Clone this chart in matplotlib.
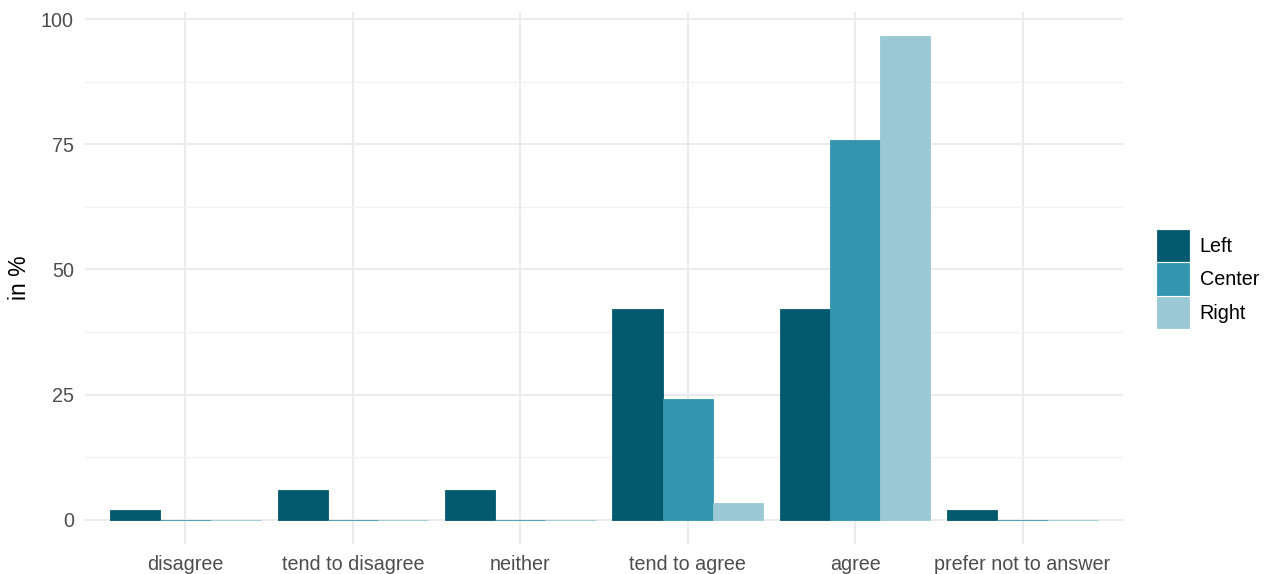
import numpy as np
import matplotlib.pyplot as plt
from matplotlib.ticker import MultipleLocator

# answer categories and share per political group (in %)
categories = ["disagree", "tend to disagree", "neither", "tend to agree", "agree", "prefer not to answer"]
groups = ["Left", "Center", "Right"]
left = [2.0, 6.0, 6.0, 42.0, 42.0, 2.0]
center = [0.0, 0.0, 0.0, 24.2, 75.8, 0.0]
right = [0.0, 0.0, 0.0, 3.45, 96.55, 0.0]
colors = ["#035a6e", "#3396ae", "#9ac9d5"]

plt.rcParams['font.family'] = ['Liberation Sans', 'DejaVu Sans']

fig = plt.figure(figsize=(12.71, 5.74), dpi=100)
ax = fig.add_axes([85 / 1271, 30 / 574, (1123 - 85) / 1271, (562 - 30) / 574])

x = np.arange(1, len(categories) + 1)
width = 0.3
for i, (vals, name, col) in enumerate(zip([left, center, right], groups, colors)):
    ax.bar(x + (i - 1) * width, vals, width=width, color=col, edgecolor=col,
           linewidth=0.6, label=name, zorder=3)

ax.set_xlim(0.4, 6.6)
ax.set_ylim(-4.83, 101.4)
ax.set_xticks(x)
ax.set_xticklabels(categories)
ax.yaxis.set_major_locator(MultipleLocator(25))
ax.yaxis.set_minor_locator(MultipleLocator(12.5))

ax.grid(which='major', color='#ebebeb', linewidth=1.5, zorder=0)
ax.grid(which='minor', axis='y', color='#f2f2f2', linewidth=0.9, zorder=0)
ax.set_axisbelow(True)
for s in ax.spines.values():
    s.set_visible(False)
ax.tick_params(which='both', length=0)
ax.tick_params(axis='both', labelsize=14.2, labelcolor='#4d4d4d')
ax.tick_params(axis='x', pad=8)
ax.tick_params(axis='y', pad=8)
ax.set_ylabel("in %", fontsize=16.6, labelpad=7)

# legend keys ~32 px squares, stacked almost without gaps
fig.legend(loc='center left', bbox_to_anchor=(1149 / 1271, 1 - 279 / 574),
           frameon=False, fontsize=14.2, handlelength=1.62, handleheight=2.11,
           labelspacing=0.08, handletextpad=0.55, borderaxespad=0)

fig.savefig("out.png", dpi=100)
